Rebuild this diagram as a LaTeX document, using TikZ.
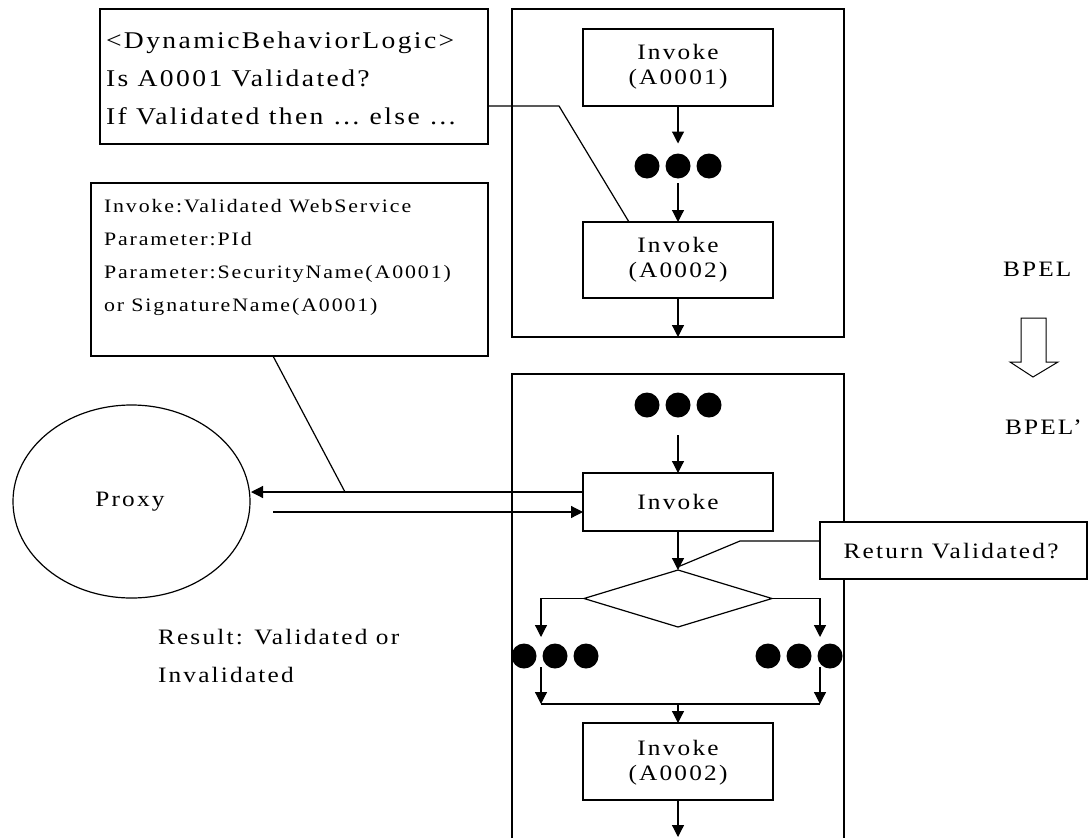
\documentclass[tikz,border=0pt]{standalone}
\usepackage{fontspec}
\setmainfont{Liberation Serif}[LetterSpace=10,FakeStretch=1.15]
\usetikzlibrary{arrows.meta,shapes.geometric}

\begin{document}
\begin{tikzpicture}[x=1pt,y=-1pt,
  line width=1.2pt,
  every node/.style={inner sep=0pt, outer sep=0pt},
  flow/.style={-{Triangle[length=12pt,width=12pt]}},
  box/.style={draw, rectangle},
  stepbox/.style={box, minimum width=190pt},
  dot/.style={circle, fill=black, minimum size=25pt},
  label22/.style={font=\fontsize{22}{25}\selectfont, align=center},
  notebig/.style={font=\fontsize{24}{38}\selectfont, align=left},
  notesmall/.style={font=\fontsize{19}{33}\selectfont, align=left},
  plaintext/.style={font=\fontsize{22}{38}\selectfont, align=left}
]
\useasboundingbox (0,0) rectangle (1089,838);

% ---------- note boxes on the left ----------
% multi-line nodes: the base anchor sits on the last line
\node[box, minimum width=388pt, minimum height=135pt] (logic) at (294,76.5) {};
\node[notebig, anchor=base west] (logictxt) at (106,124)
  {<DynamicBehaviorLogic>\\Is A0001 Validated?\\If Validated then \ldots\ else \ldots};

\node[box, minimum width=397pt, minimum height=173pt] (param) at (289.5,269.5) {};
\node[notesmall, anchor=base west] (paramtxt) at (104,311)
  {Invoke:Validated WebService\\Parameter:PId\\Parameter:SecurityName(A0001)\\or SignatureName(A0001)};

% ---------- original process (BPEL) ----------
\node[box, minimum width=332pt, minimum height=328pt] (bpel) at (678,173) {};
\node[stepbox, minimum height=77pt] (invA) at (678,67.5) {};
\node[label22, anchor=base] (invAtxt) at (678,84) {Invoke\\(A0001)};
\node[dot] (tA1) at (647,166) {};
\node[dot] (tA2) at (678,166) {};
\node[dot] (tA3) at (709,166) {};
\node[stepbox, minimum height=76pt] (invB) at (678,260) {};
\node[label22, anchor=base] (invBtxt) at (678,277) {Invoke\\(A0002)};

\draw[flow, shorten >=10pt] (invA.south) -- (tA2.north);
\draw[flow, shorten <=4.5pt] (tA2.south) -- (invB.north);
\draw[flow] (invB.south) -- (bpel.south);

% ---------- rewritten process (BPEL') ----------
\coordinate (pTL) at (512,374);
\coordinate (pTR) at (844,374);
\coordinate (pBL) at (512,838);
\coordinate (pBR) at (844,838);
\draw (pBL) -- (pTL) -- (pTR) -- (pBR);

\node[dot] (tB1) at (647,405) {};
\node[dot] (tB2) at (678,405) {};
\node[dot] (tB3) at (709,405) {};
\node[stepbox, minimum height=58pt] (invC) at (678,502) {};
\node[label22, anchor=base] (invCtxt) at (678,509) {Invoke};
\node[diamond, draw, minimum width=188pt, minimum height=57pt] (dec) at (678,598.5) {};

\node[dot] (lt1) at (524,656) {};
\node[dot] (lt2) at (555,656) {};
\node[dot] (lt3) at (586,656) {};
\node[dot] (rt1) at (768,656) {};
\node[dot] (rt2) at (799,656) {};
\node[dot] (rt3) at (830,656) {};

\node[stepbox, minimum height=77pt] (invD) at (678,761.5) {};
\node[label22, anchor=base] (invDtxt) at (678,780) {Invoke\\(A0002)};

\coordinate (lIn) at (541,637);
\coordinate (rIn) at (820,637);
\coordinate (lOut) at (541,667);
\coordinate (rOut) at (820,667);
\coordinate (mL) at (541,704);
\coordinate (mR) at (820,704);
\coordinate (mC) at (678,704);
\coordinate (endD) at (678,837);

\draw[flow, shorten <=17.5pt] (tB2.south) -- (invC.north);
\draw[flow] (invC.south) -- (dec.north);
\draw[flow] (dec.west) -| (lIn);
\draw[flow] (dec.east) -| (rIn);
\draw[flow] (lOut) -- (mL);
\draw[flow] (rOut) -- (mR);
\draw (mL) -- (mR);
\draw[flow] (mC) -- (invD.north);
\draw[flow] (invD.south) -- (endD);

% ---------- callout for the decision ----------
\node[box, fill=white, minimum width=267pt, minimum height=57pt] (ret) at (953.5,550.5) {};
\node[label22, anchor=base] (rettxt) at (951,558) {Return Validated?};
\coordinate (retBend) at (740,541);
\coordinate (retEnd) at (680,566);
\draw ([yshift=9.5pt]ret.west) -- (retBend) -- (retEnd);

% ---------- proxy ----------
\node[ellipse, draw, minimum width=237pt, minimum height=193pt] (proxy) at (131.5,501.5) {};
\node[label22, anchor=base] (proxytxt) at (130,506) {Proxy};
\coordinate (pIn) at (251,492);
\coordinate (pOut) at (273,512);
\draw[flow] ([yshift=10pt]invC.west) -- (pIn);
\draw[flow] (pOut) -- ([yshift=-10pt]invC.west);

\node[plaintext, anchor=base west] (result) at (158,682.5)
  {Result: Validated or\\Invalidated};

% ---------- callout lines from the notes ----------
\coordinate (logicBend) at (559,106);
\draw ([yshift=-29.5pt]logic.east) -- (logicBend) -- ([xshift=-49pt]invB.north);
\coordinate (paramEnd) at (345,492);
\draw ([xshift=-16.5pt]param.south) -- (paramEnd);

% ---------- BPEL -> BPEL' ----------
\node[label22, anchor=base west] (bpelA) at (1003,276.5) {BPEL};
\node[label22, anchor=base west] (bpelB) at (1005,434.5) {BPEL’};
\draw[line width=1pt] (1021,318) -- (1046,318) -- (1046,362) -- (1058,362)
  -- (1033,377) -- (1010,362) -- (1021,362) -- cycle;
\end{tikzpicture}
\end{document}
